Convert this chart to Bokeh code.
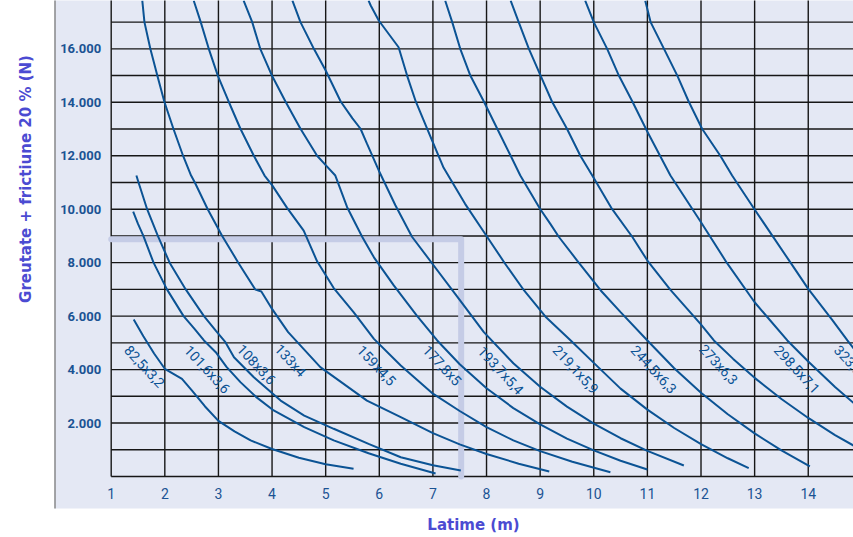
import math
from bokeh.plotting import figure
from bokeh.models import Range1d, LinearAxis, FixedTicker
from bokeh.core.properties import value
from bokeh.embed import file_html
from bokeh.resources import INLINE

# ---------------- data ----------------
span_ticks = [1, 2, 3, 4, 5, 6, 7, 8, 9, 10, 11, 12, 13, 14]
load_ticks = [2000, 4000, 6000, 8000, 10000, 12000, 14000, 16000]
grid_spans = [1, 2, 3, 4, 5, 6, 7, 8, 9, 10, 11, 12, 13, 14]
grid_loads = [0, 1000, 2000, 3000, 4000, 5000, 6000, 7000, 8000, 9000,
              10000, 11000, 12000, 13000, 14000, 15000, 16000, 17000]

x_82 = [1.42, 1.60, 1.80, 2.00, 2.16, 2.32, 2.50, 2.75, 3.00, 3.30, 3.60, 4.00, 4.50, 5.00, 5.52]
y_82 = [5870, 5250, 4600, 4030, 3840, 3650, 3230, 2620, 2080, 1690, 1350, 1030, 700, 460, 290]

x_101 = [1.41, 1.50, 1.60, 1.79, 2.04, 2.35, 2.55, 2.73, 2.95, 3.15, 3.41, 3.70, 4.03, 4.60, 5.15, 5.80, 6.40, 7.05]
y_101 = [9910, 9450, 9000, 8000, 7000, 6000, 5530, 5090, 4650, 4100, 3530, 2980, 2470, 1850, 1350, 870, 475, 112]

x_108 = [1.47, 1.51, 1.67, 1.87, 2.09, 2.39, 2.73, 2.95, 3.13, 3.29, 3.66, 4.16, 4.60, 5.15, 5.80, 6.40, 7.00, 7.52]
y_108 = [11260, 11000, 10000, 9000, 8000, 7000, 6000, 5460, 5025, 4460, 3715, 2840, 2280, 1785, 1220, 722, 420, 225]

x_133 = [1.58, 1.62, 1.73, 1.86, 1.99, 2.16, 2.34, 2.49, 2.56, 2.80, 3.07, 3.37, 3.69, 3.80, 4.00, 4.30, 4.90, 5.77, 6.40, 7.00, 7.50, 8.00, 8.60, 9.17]
y_133 = [17800, 17000, 16000, 15000, 14030, 13010, 12000, 11260, 11000, 10000, 9000, 8000, 6990, 6920, 6270, 5400, 4090, 2840, 2220, 1620, 1200, 840, 480, 190]

x_159 = [2.54, 2.67, 2.82, 2.99, 3.19, 3.41, 3.66, 3.86, 4.00, 4.28, 4.59, 4.84, 5.15, 5.52, 5.90, 6.40, 7.00, 7.50, 8.00, 8.50, 9.00, 9.60, 10.31]
y_159 = [17800, 17000, 16000, 14990, 14030, 13010, 12000, 11260, 10900, 10050, 9200, 8050, 7050, 6150, 5150, 4150, 3100, 2450, 1850, 1350, 950, 550, 160]

x_177 = [3.47, 3.63, 3.78, 4.00, 4.25, 4.53, 4.84, 5.00, 5.18, 5.40, 5.68, 5.90, 6.27, 6.70, 7.08, 7.50, 8.00, 8.50, 9.00, 9.50, 10.00, 10.50, 11.00]
y_177 = [17800, 17000, 16000, 14990, 14030, 13010, 12000, 11650, 11260, 10075, 8970, 8200, 7150, 6020, 5090, 4200, 3300, 2560, 1950, 1420, 980, 590, 260]

x_193 = [4.38, 4.53, 4.78, 5.00, 5.28, 5.50, 5.65, 5.77, 5.99, 6.30, 6.61, 6.99, 7.45, 7.95, 8.50, 9.00, 9.50, 10.00, 10.50, 11.00, 11.68]
y_193 = [17800, 17000, 16000, 15190, 14030, 13400, 13010, 12450, 11450, 10150, 8970, 7960, 6740, 5400, 4235, 3356, 2613, 1978, 1432, 958, 410]

x_219 = [5.80, 5.84, 5.99, 6.36, 6.52, 6.68, 6.96, 7.20, 7.60, 8.01, 8.35, 8.70, 9.10, 9.57, 10.00, 10.50, 11.00, 11.50, 12.00, 12.50, 12.89]
y_219 = [17800, 17620, 17060, 16060, 14990, 14030, 12690, 11550, 10200, 8970, 7950, 6960, 5980, 5090, 4250, 3287, 2501, 1815, 1213, 682, 310]

x_244 = [7.23, 7.36, 7.51, 7.70, 7.95, 8.20, 8.45, 8.63, 9.00, 9.19, 9.35, 9.69, 10.13, 10.50, 11.00, 11.50, 12.00, 12.50, 13.00, 13.50, 14.03]
y_244 = [17800, 17000, 16000, 14990, 14030, 13010, 12000, 11260, 10010, 9450, 8960, 8080, 6960, 6150, 5090, 4049, 3135, 2328, 1613, 976, 375]

x_273 = [8.45, 8.60, 8.79, 9.01, 9.22, 9.50, 9.75, 10.00, 10.34, 10.72, 11.00, 11.43, 11.99, 12.24, 12.60, 13.00, 13.50, 14.00, 14.50, 15.00]
y_273 = [17800, 17000, 16000, 14990, 14030, 13010, 12000, 11170, 10010, 8960, 8080, 6980, 5710, 5090, 4400, 3690, 2900, 2190, 1550, 980]

x_298 = [9.84, 10.00, 10.25, 10.47, 10.72, 11.00, 11.43, 12.00, 12.48, 13.00, 13.61, 14.00, 14.50, 15.00]
y_298 = [17800, 17000, 16000, 14990, 14030, 12900, 11260, 9510, 8000, 6520, 5090, 4300, 3350, 2480]

x_323 = [10.96, 11.06, 11.31, 11.56, 11.77, 12.02, 12.36, 12.58, 13.00, 13.67, 14.00, 14.45, 14.73, 15.00]
y_323 = [17800, 17000, 16000, 14990, 14030, 13010, 12000, 11260, 9990, 8000, 7020, 5850, 5090, 4400]

curve_labels = ["82,5x3,2", "101,6x3,6", "108x3,6", "133x4", "159x4,5", "177,8x5",
                "193,7x5,4", "219,1x5,9", "244,5x6,3", "273x6,3", "298,5x7,1", "323,9x7,1"]
label_x = [1.621, 2.790, 3.710, 4.344, 5.948, 7.173, 8.265, 9.664, 11.12, 12.33, 13.79, 14.91]
label_y = [4115, 4003, 4190, 4340, 4153, 4153, 3966, 4003, 4003, 4190, 4003, 4003]

example_x = [1.0, 7.527, 7.527]
example_y = [8880, 8880, 0]

curves = [(x_82, y_82), (x_101, y_101), (x_108, y_108), (x_133, y_133), (x_159, y_159),
          (x_177, y_177), (x_193, y_193), (x_219, y_219), (x_244, y_244), (x_273, y_273),
          (x_298, y_298), (x_323, y_323)]

y_title = "Greutate + frictiune 20 % (N)"
x_title = "Latime (m)"

# ---------------- styling ----------------
BG = "#e4e8f4"
GRID = "#161616"
CURVE = "#0b5394"
TICK = "#1b5393"
TITLE = "#4b4bd2"
HILITE = "#c5cce6"

W, H = 853, 537
X0, X1 = -1.0645, 14.844
Y0, Y1 = -2282, 17808
PANEL_LEFT, PANEL_BOTTOM = -0.0574, -1197

p = figure(width=W, height=H, x_range=Range1d(X0, X1), y_range=Range1d(Y0, Y1),
           output_backend="svg", toolbar_location=None,
           x_axis_location=None, y_axis_location=None, title=None,
           min_border=0, min_border_left=0, min_border_right=0,
           min_border_top=0, min_border_bottom=0,
           background_fill_color="white", border_fill_color="white",
           outline_line_color=None)
p.xgrid.visible = False
p.ygrid.visible = False

# lavender panel and its grey left edge
p.quad(left=[PANEL_LEFT], right=[X1 + 1], bottom=[PANEL_BOTTOM], top=[Y1 + 1000],
       fill_color=BG, line_color=None)
p.segment(x0=[-0.048], y0=[PANEL_BOTTOM], x1=[-0.048], y1=[Y1 + 1000],
          line_color="#7a7a7a", line_width=1.3)

# grid
p.segment(x0=grid_spans, y0=[0] * len(grid_spans), x1=grid_spans, y1=[Y1 + 1000] * len(grid_spans),
          line_color=GRID, line_width=1.4)
p.segment(x0=[1] * len(grid_loads), y0=grid_loads, x1=[X1 + 1] * len(grid_loads), y1=grid_loads,
          line_color=GRID, line_width=1.4)

# example reading path
p.line(example_x, example_y, line_color=HILITE, line_width=6, line_cap="round", line_join="round")

# curves
for cx, cy in curves:
    p.line(cx, cy, line_color=CURVE, line_width=2)

p.text(x=label_x, y=label_y, text=curve_labels, angle=-0.82,
       text_align="center", text_baseline="middle",
       text_font=value("Roboto"), text_font_size="14px", text_color=CURVE)

# axes (drawn at fixed data locations inside the panel)
yax = LinearAxis(fixed_location=1, ticker=FixedTicker(ticks=load_ticks, minor_ticks=[]),
                 major_label_overrides={t: f"{t:,}".replace(",", ".") for t in load_ticks},
                 axis_line_color=None, major_tick_line_color=None, minor_tick_line_color=None,
                 major_tick_out=0, major_tick_in=0, minor_tick_out=0, minor_tick_in=0,
                 major_label_standoff=10, major_label_text_font="Roboto",
                 major_label_text_font_style="bold", major_label_text_font_size="13px",
                 major_label_text_color=TICK)
p.add_layout(yax, "left")

xax = LinearAxis(fixed_location=0, ticker=FixedTicker(ticks=span_ticks, minor_ticks=[]),
                 axis_line_color=None, major_tick_line_color=None, minor_tick_line_color=None,
                 major_tick_out=0, major_tick_in=0, minor_tick_out=0, minor_tick_in=0,
                 major_label_standoff=11, major_label_text_font="Roboto",
                 major_label_text_font_size="14px", major_label_text_color=TICK)
p.add_layout(xax, "below")

# axis titles
p.text(x=[-0.58], y=[11130], text=[y_title], angle=math.pi / 2,
       text_align="center", text_baseline="middle",
       text_font=value("DejaVu Sans"), text_font_style="bold",
       text_font_size="15px", text_color=TITLE)
p.text(x=[7.757], y=[-1796], text=[x_title],
       text_align="center", text_baseline="middle",
       text_font=value("DejaVu Sans"), text_font_style="bold",
       text_font_size="15px", text_color=TITLE)

open("out.html", "w").write(file_html(p, INLINE))
